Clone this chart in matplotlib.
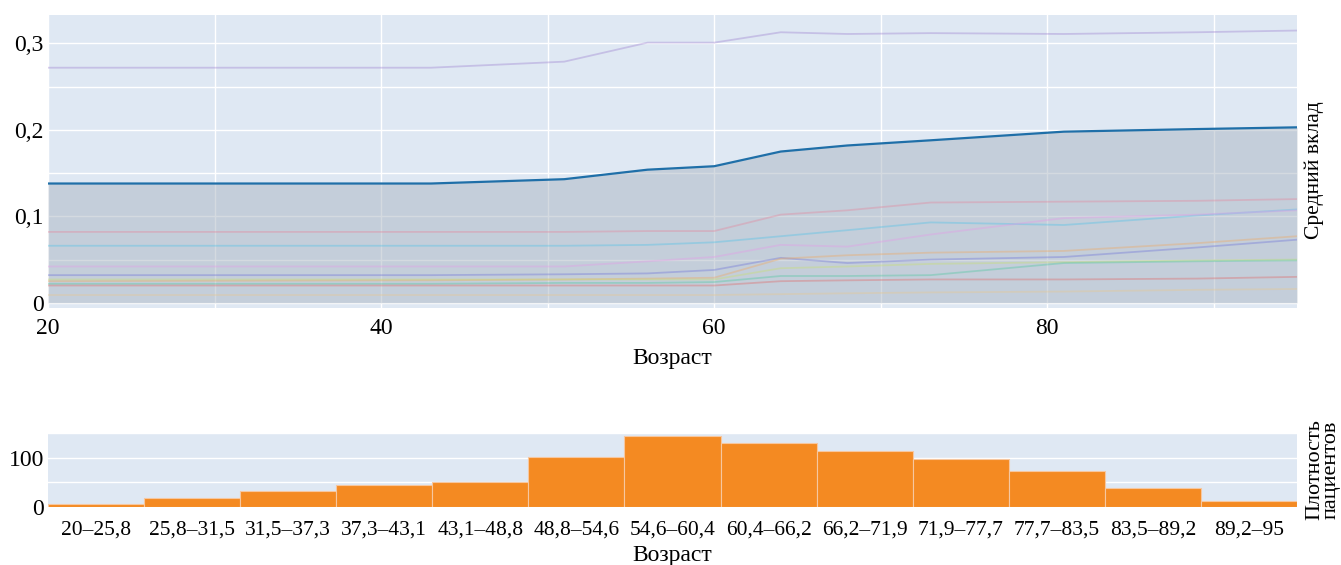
import numpy as np
import matplotlib
matplotlib.use('Agg')
import matplotlib.pyplot as plt
from matplotlib.ticker import MultipleLocator, FuncFormatter

# Data
#####################################################
ages = [20, 43, 51, 56, 60, 64, 68, 73, 81, 89, 95]

# mean contribution of the leading feature (drawn bold, area filled)
main_contrib = [0.138, 0.138, 0.143, 0.154, 0.158, 0.175, 0.182, 0.188, 0.198, 0.201, 0.203]

# the rest of the features
other_contrib = {
    'purple':  [0.272, 0.272, 0.279, 0.301, 0.301, 0.313, 0.311, 0.312, 0.311, 0.313, 0.315],
    'rose':    [0.082, 0.082, 0.082, 0.083, 0.083, 0.102, 0.107, 0.116, 0.117, 0.118, 0.120],
    'cyan':    [0.066, 0.066, 0.066, 0.067, 0.070, 0.077, 0.084, 0.093, 0.090, 0.101, 0.108],
    'pink':    [0.042, 0.042, 0.042, 0.048, 0.053, 0.067, 0.065, 0.079, 0.098, 0.102, 0.107],
    'blue':    [0.032, 0.032, 0.033, 0.034, 0.038, 0.052, 0.046, 0.050, 0.053, 0.064, 0.073],
    'orange':  [0.025, 0.026, 0.027, 0.028, 0.029, 0.051, 0.055, 0.058, 0.060, 0.069, 0.077],
    'olive':   [0.027, 0.027, 0.027, 0.027, 0.027, 0.040, 0.042, 0.045, 0.047, 0.049, 0.050],
    'green':   [0.022, 0.022, 0.023, 0.023, 0.024, 0.031, 0.031, 0.032, 0.046, 0.048, 0.049],
    'red':     [0.020, 0.020, 0.020, 0.020, 0.020, 0.025, 0.026, 0.027, 0.027, 0.028, 0.030],
    'beige':   [0.009, 0.009, 0.009, 0.009, 0.009, 0.010, 0.011, 0.012, 0.013, 0.015, 0.016],
}
line_colors = {
    'purple': '#9b7fd0',
    'rose':   '#e4869c',
    'cyan':   '#4fc3e8',
    'pink':   '#e49ae8',
    'blue':   '#6f74d8',
    'orange': '#f0a860',
    'olive':  '#c8e070',
    'green':  '#50c8a0',
    'red':    '#e06868',
    'beige':  '#e8c890',
}

# Age bins histogram
#####################################################
bin_labels = ['20–25,8', '25,8–31,5', '31,5–37,3', '37,3–43,1', '43,1–48,8',
              '48,8–54,6', '54,6–60,4', '60,4–66,2', '66,2–71,9', '71,9–77,7',
              '77,7–83,5', '83,5–89,2', '89,2–95']
bin_counts = [6, 18, 32, 44, 51, 101, 143, 129, 114, 97, 72, 39, 13]

# Style
#####################################################
plt.rcParams['font.family'] = ['Liberation Serif', 'DejaVu Serif']
plt.rcParams['font.size'] = 17
bg = '#dfe8f3'

fig = plt.figure(figsize=(13.41, 5.65), dpi=100)
ax1 = fig.add_axes([0.0358, 0.4549, 0.9314, 0.5186])
ax2 = fig.add_axes([0.0358, 0.1027, 0.9314, 0.1310])

comma = FuncFormatter(lambda v, p: ('%g' % round(v, 3)).replace('.', ','))

# Top panel: mean contribution vs age
#####################################################
ax1.set_facecolor(bg)
for key, vals in other_contrib.items():
    ax1.plot(ages, vals, color=line_colors[key], lw=1.3, alpha=0.38, zorder=3)
ax1.fill_between(ages, 0, main_contrib, color='#abb6c3', alpha=0.5, lw=0, zorder=2)
ax1.plot(ages, main_contrib, color='#1f6fa8', lw=1.6, zorder=4)

ax1.set_xlim(20, 95)
ax1.set_ylim(-0.006, 0.333)
ax1.xaxis.set_major_locator(MultipleLocator(20))
ax1.xaxis.set_minor_locator(MultipleLocator(10))
ax1.yaxis.set_major_locator(MultipleLocator(0.1))
ax1.yaxis.set_minor_locator(MultipleLocator(0.05))
ax1.yaxis.set_major_formatter(comma)
ax1.grid(which='both', color='white', lw=1.0, zorder=1)
ax1.set_axisbelow(True)
ax1.tick_params(which='both', length=0)
ax1.tick_params(axis='x', pad=7)
ax1.tick_params(axis='y', pad=3)
for s in ax1.spines.values():
    s.set_visible(False)
ax1.set_xlabel('Возраст', labelpad=7)
ax1.yaxis.set_label_position('right')
ax1.set_ylabel('Средний вклад', fontsize=15.5)
ax1.yaxis.set_label_coords(1.006, 0.47)

# Bottom panel: patients per age bin
#####################################################
ax2.set_facecolor(bg)
xpos = np.arange(len(bin_counts))
ax2.bar(xpos, bin_counts, width=1.0, color='#f48a22', edgecolor='#f6c7a0', lw=0.8, zorder=3)
ax2.set_xlim(-0.5, len(bin_counts) - 0.5)
ax2.set_ylim(0, 150)
ax2.set_xticks(xpos)
ax2.set_xticklabels(bin_labels, fontsize=15.5)
ax2.yaxis.set_major_locator(MultipleLocator(100))
ax2.yaxis.set_minor_locator(MultipleLocator(50))
ax2.grid(axis='y', which='both', color='white', lw=1.0, zorder=1)
ax2.set_axisbelow(True)
ax2.tick_params(which='both', length=0)
ax2.tick_params(axis='x', pad=10)
ax2.tick_params(axis='y', pad=3)
for s in ax2.spines.values():
    s.set_visible(False)
ax2.set_xlabel('Возраст', labelpad=4)
ax2.yaxis.set_label_position('right')
ax2.set_ylabel('Плотность\nпациентов', labelpad=6, linespacing=0.8, fontsize=16)

fig.savefig('out.png', dpi=100)
